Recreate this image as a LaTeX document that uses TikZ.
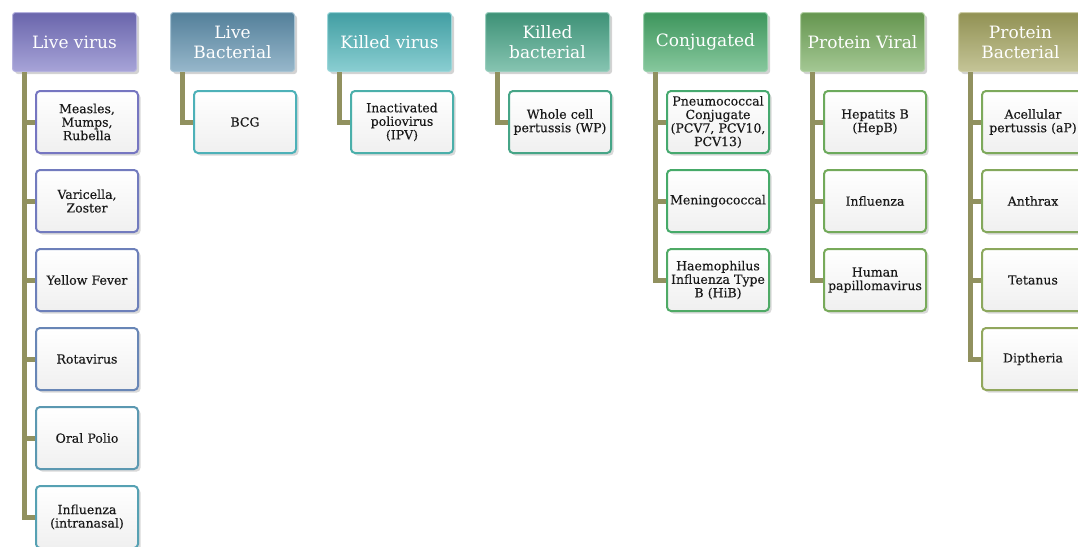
\documentclass[tikz,border=0pt]{standalone}
\usepackage{fontspec}
\setmainfont{DejaVu Serif}
\newfontfamily\boxfam[FakeBold=0.3]{DejaVu Serif}
\usetikzlibrary{shadows}
\definecolor{VirusClr}{RGB}{120,115,195}
\definecolor{LiveBacClr}{RGB}{95,145,175}
\definecolor{KilVirClr}{RGB}{75,180,185}
\definecolor{KilBacClr}{RGB}{70,165,135}
\definecolor{ConjClr}{RGB}{70,170,105}
\definecolor{ProVirClr}{RGB}{115,170,90}
\definecolor{ProBacClr}{RGB}{165,165,95}
\definecolor{LinkClr}{RGB}{145,145,95}
\newcommand\hdfont{\fontsize{17}{20}\selectfont}
\newcommand\boxfont{\boxfam\fontsize{12.5}{13.5}\selectfont}

\begin{document}
\begin{tikzpicture}[x=1pt,y=-1pt,
  head/.style={anchor=north west,rounded corners=3pt,top color=#1!88!black,bottom color=#1!65!white,
    draw=#1!55!white,line width=1pt,text=white,font=\hdfont,align=center,
    minimum width=124pt,minimum height=59pt,drop shadow={opacity=.35}},
  item/.style={anchor=north west,rounded corners=4pt,draw=#1,line width=2pt,top color=white,
    bottom color=black!6,text=black!90,font=\boxfont,align=center,text width=100pt,inner xsep=0.5pt,
    minimum width=102pt,minimum height=62pt,drop shadow={opacity=.3}},
  link/.style={draw=LinkClr,line width=5pt}]
\useasboundingbox (0,0) rectangle (1078,546);

\node[head=VirusClr] (LV) at (12,12) {Live virus};
\node[head=LiveBacClr] (LB) at (170,12) {Live\\Bacterial};
\node[head=KilVirClr] (KV) at (327,12) {Killed virus};
\node[head=KilBacClr] (KB) at (485,12) {Killed\\bacterial};
\node[head=ConjClr] (CJ) at (643,12) {Conjugated};
\node[head=ProVirClr] (PV) at (800,12) {Protein Viral};
\node[head=ProBacClr] (PB) at (958,12) {Protein\\Bacterial};

\node[item=VirusClr!90!LiveBacClr] (LV1) at (35,90) {Measles,\\Mumps,\\Rubella};
\node[item=VirusClr!75!LiveBacClr] (LV2) at (35,169) {Varicella,\\Zoster};
\node[item=VirusClr!55!LiveBacClr] (LV3) at (35,248) {Yellow Fever};
\node[item=VirusClr!35!LiveBacClr] (LV4) at (35,327) {Rotavirus};
\node[item=LiveBacClr!80!KilVirClr] (LV5) at (35,406) {Oral Polio};
\node[item=LiveBacClr!55!KilVirClr] (LV6) at (35,485) {Influenza\\(intranasal)};

\node[item=KilVirClr!90!LiveBacClr] (LB1) at (193,90) {BCG};
\node[item=KilVirClr!70!KilBacClr] (KV1) at (350,90) {Inactivated\\poliovirus\\(IPV)};
\node[item=KilBacClr] (KB1) at (508,90) {Whole cell\\pertussis (WP)};

\node[item=ConjClr!80!KilBacClr] (CJ1) at (666,90) {Pneumococcal\\Conjugate\\(PCV7, PCV10,\\PCV13)};
\node[item=ConjClr] (CJ2) at (666,169) {Meningococcal};
\node[item=ConjClr!80!ProVirClr] (CJ3) at (666,248) {Haemophilus\\Influenza Type\\B (HiB)};

\node[item=ProVirClr!85!ConjClr] (PV1) at (823,90) {Hepatits B\\(HepB)};
\node[item=ProVirClr] (PV2) at (823,169) {Influenza};
\node[item=ProVirClr!90!ProBacClr] (PV3) at (823,248) {Human\\papillomavirus};

\node[item=ProVirClr!80!ProBacClr] (PB1) at (981,90) {Acellular\\pertussis (aP)};
\node[item=ProVirClr!65!ProBacClr] (PB2) at (981,169) {Anthrax};
\node[item=ProVirClr!50!ProBacClr] (PB3) at (981,248) {Tetanus};
\node[item=ProVirClr!40!ProBacClr] (PB4) at (981,327) {Diptheria};

\draw[link] ([xshift=12pt]LV.south west) |- (LV1.west) ([xshift=12pt]LV.south west) |- (LV2.west)
  ([xshift=12pt]LV.south west) |- (LV3.west) ([xshift=12pt]LV.south west) |- (LV4.west)
  ([xshift=12pt]LV.south west) |- (LV5.west) ([xshift=12pt]LV.south west) |- (LV6.west);
\draw[link] ([xshift=12pt]LB.south west) |- (LB1.west);
\draw[link] ([xshift=12pt]KV.south west) |- (KV1.west);
\draw[link] ([xshift=12pt]KB.south west) |- (KB1.west);
\draw[link] ([xshift=12pt]CJ.south west) |- (CJ1.west) ([xshift=12pt]CJ.south west) |- (CJ2.west)
  ([xshift=12pt]CJ.south west) |- (CJ3.west);
\draw[link] ([xshift=12pt]PV.south west) |- (PV1.west) ([xshift=12pt]PV.south west) |- (PV2.west)
  ([xshift=12pt]PV.south west) |- (PV3.west);
\draw[link] ([xshift=12pt]PB.south west) |- (PB1.west) ([xshift=12pt]PB.south west) |- (PB2.west)
  ([xshift=12pt]PB.south west) |- (PB3.west) ([xshift=12pt]PB.south west) |- (PB4.west);

\end{tikzpicture}
\end{document}
